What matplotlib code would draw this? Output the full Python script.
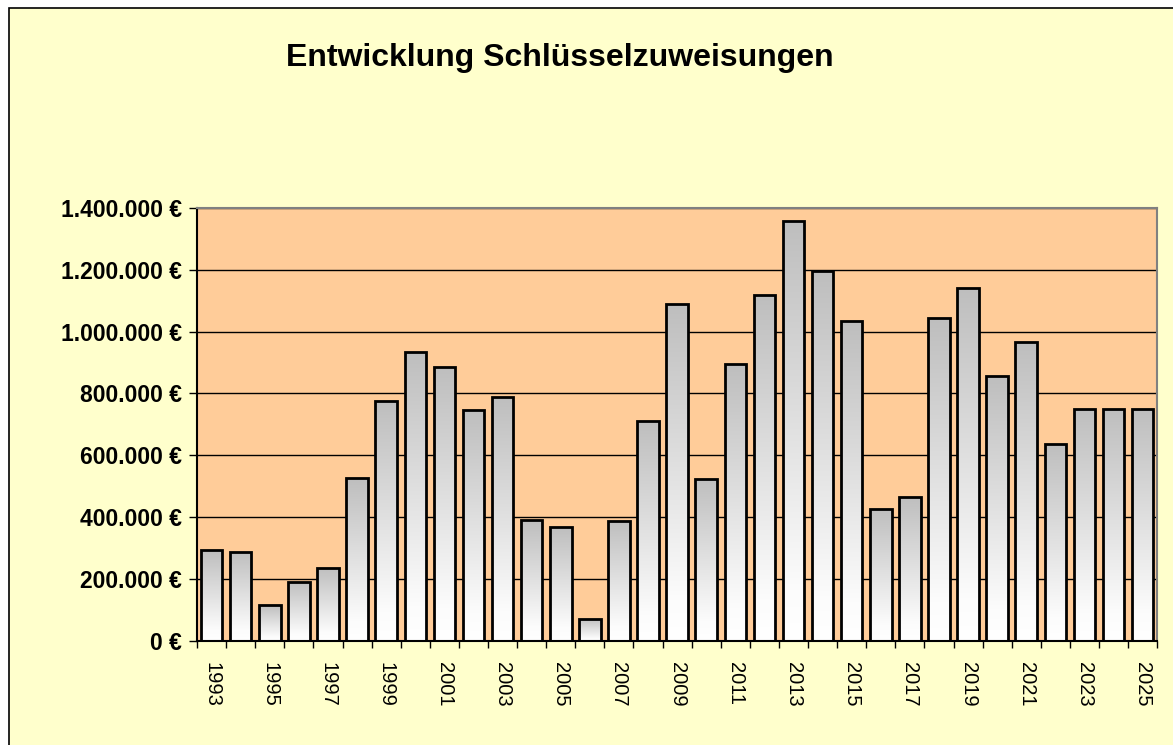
import numpy as np
import matplotlib.pyplot as plt
from matplotlib.colors import LinearSegmentedColormap
from matplotlib.patches import Rectangle
from matplotlib.ticker import FuncFormatter, MultipleLocator

plt.rcParams['font.family'] = ['Liberation Sans', 'DejaVu Sans']

years = list(range(1993, 2026))
values = [294000, 288000, 116000, 192000, 237000, 526000, 775000, 935000,
          886000, 746000, 790000, 390000, 368000, 72000, 388000, 711000,
          1088000, 525000, 895000, 1117000, 1359000, 1195000, 1033000, 427000,
          467000, 1043000, 1142000, 856000, 966000, 637000, 750000, 750000,
          750000]

fig = plt.figure(figsize=(11.73, 7.45), dpi=100, facecolor='white')
# yellow chart area with border (Excel style)
fig.patches.append(Rectangle((9 / 1173, -0.01), 1.02, 1 - 8 / 745 + 0.01,
                             transform=fig.transFigure, facecolor='#FFFFCC',
                             edgecolor='black', linewidth=1.2, zorder=-10))

ax = fig.add_axes([0.168, 0.1396, 0.8185, 0.5814])
ax.set_facecolor('#FFCC99')

x = np.arange(len(years))
bars = ax.bar(x, values, width=0.74, facecolor='none', edgecolor='black',
              linewidth=2, zorder=3)

# gray -> white gradient inside each bar
cmap = LinearSegmentedColormap.from_list(
    'g', [(0, '#FFFFFF'), (0.12, '#FCFCFC'), (1, '#BEBEBE')])
grad = np.linspace(0, 1, 256).reshape(-1, 1)
for b in bars:
    x0, w, h = b.get_x(), b.get_width(), b.get_height()
    im = ax.imshow(grad, cmap=cmap, origin='lower', aspect='auto',
                   extent=[x0, x0 + w, 0, h], zorder=2, interpolation='bilinear')
    im.set_clip_path(b)

ax.set_xlim(-0.5, len(years) - 0.5)
ax.set_ylim(0, 1400000)

ax.yaxis.set_major_locator(MultipleLocator(200000))
ax.yaxis.set_major_formatter(FuncFormatter(
    lambda v, p: f"{int(v):,} €".replace(',', '.')))
ax.grid(axis='y', color='black', linewidth=1, zorder=1)
ax.set_axisbelow(True)

# category boundaries carry the tick marks, labels every second year
ax.set_xticks(x[::2])
ax.set_xticklabels([str(y) for y in years[::2]], rotation=270, fontsize=14.5)
ax.set_xticks(np.arange(len(years) + 1) - 0.5, minor=True)
ax.tick_params(axis='x', which='major', length=0, pad=15)
ax.tick_params(axis='x', which='minor', length=5, width=1)
ax.tick_params(axis='y', length=6, width=1, pad=5)
for lbl in ax.get_yticklabels():
    lbl.set_fontsize(16.5)
    lbl.set_fontweight('bold')

ax.spines['left'].set_color('black')
ax.spines['bottom'].set_color('black')
ax.spines['top'].set_color('#808080')
ax.spines['right'].set_color('#808080')
for s in ax.spines.values():
    s.set_linewidth(1.5)

fig.text(0.4774, 0.922, 'Entwicklung Schlüsselzuweisungen', ha='center',
         va='center', fontsize=23, fontweight='bold')

fig.savefig('out.png', dpi=100, facecolor=fig.get_facecolor())
